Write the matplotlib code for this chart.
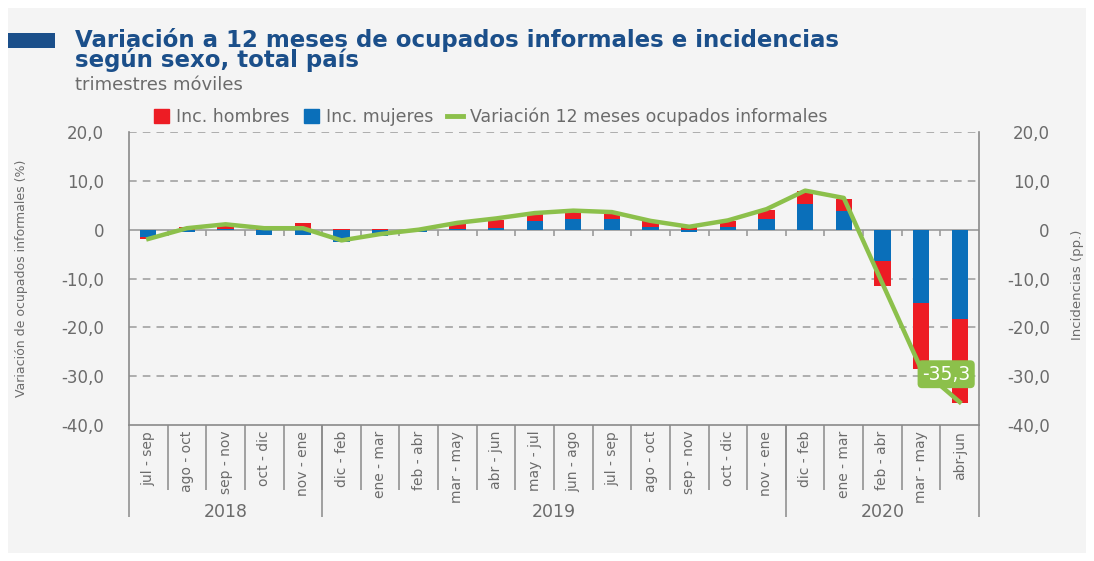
import matplotlib
matplotlib.use('Agg')
import matplotlib.pyplot as plt
from matplotlib.patches import Rectangle, Patch
from matplotlib.lines import Line2D
from matplotlib.transforms import blended_transform_factory
import numpy as np

periodos = ['jul - sep', 'ago - oct', 'sep - nov', 'oct - dic', 'nov - ene',
            'dic - feb', 'ene - mar', 'feb - abr', 'mar - may', 'abr - jun',
            'may - jul', 'jun - ago', 'jul - sep', 'ago - oct', 'sep - nov',
            'oct - dic', 'nov - ene', 'dic - feb', 'ene - mar', 'feb - abr',
            'mar - may', 'abr-jun']
anios = ['2018', '2019', '2020']
n_por_anio = [5, 12, 5]

inc_mujeres = [-1.4, -0.5, 0.2, -1.0, -1.0, -2.5, -1.3, -0.4, 0.2, 0.4, 1.8,
               2.2, 2.2, 0.5, -0.5, 0.5, 2.2, 5.2, 3.9, -6.5, -15.1, -18.2]
inc_hombres = [-0.5, 0.5, 0.6, 0.2, 1.4, 0.1, 0.2, 0.1, 0.9, 1.6, 1.5,
               1.6, 1.1, 1.2, 0.5, 1.2, 1.8, 2.7, 2.4, -5.0, -13.4, -17.3]
variacion = [-1.9, 0.3, 1.1, 0.3, 0.3, -2.2, -0.9, 0.0, 1.4, 2.3, 3.4,
             3.9, 3.6, 1.8, 0.6, 1.9, 4.2, 8.0, 6.5, -11.0, -28.5, -35.3]

ROJO = '#ed1c24'
AZUL = '#0a6fba'
VERDE = '#8cc04b'
GRIS = '#6b6b6b'
TITULO = '#1b4f8a'

plt.rcParams['font.family'] = ['DejaVu Sans']

fig = plt.figure(figsize=(10.94, 5.61), dpi=100)
fig.patch.set_facecolor('white')
fig.add_artist(Rectangle((8 / 1094, 8 / 561), 1078 / 1094, 545 / 561,
                         transform=fig.transFigure, facecolor='#f4f4f4',
                         edgecolor='none', zorder=-10))

# titulo
fig.add_artist(Rectangle((8 / 1094, 1 - 48 / 561), 47 / 1094, 15 / 561,
                         transform=fig.transFigure, facecolor=TITULO,
                         edgecolor='none'))
fig.text(75 / 1094, 1 - 67 / 561,
         'Variación a 12 meses de ocupados informales e incidencias\n'
         'según sexo, total país',
         fontsize=16.5, fontweight='bold', color=TITULO, va='baseline',
         linespacing=0.8)
fig.text(75 / 1094, 1 - 90 / 561, 'trimestres móviles',
         fontsize=13, color=GRIS, va='baseline')

ax = fig.add_axes([129 / 1094, 1 - 425 / 561, 850 / 1094, 293 / 561])
ax.set_facecolor('none')

x = np.arange(len(periodos))
m = np.array(inc_mujeres)
h = np.array(inc_hombres)
base_h = np.where(np.sign(h) == np.sign(m), m, 0)

ax.bar(x, m, width=0.42, color=AZUL, zorder=3)
ax.bar(x, h, width=0.42, bottom=base_h, color=ROJO, zorder=3)
ax.plot(x, variacion, color=VERDE, lw=3.2, zorder=4, solid_joinstyle='round')

ax.set_xlim(-0.5, len(periodos) - 0.5)
ax.set_ylim(-40, 20)
yt = [20, 10, 0, -10, -20, -30, -40]
ylab = ['20,0', '10,0', '0', '-10,0', '-20,0', '-30,0', '-40,0']
ax.set_yticks(yt)
ax.set_yticklabels(ylab)
for v in [20, 10, -10, -20, -30]:
    ax.axhline(v, color='#9a9a9a', lw=1.1, ls=(0, (5, 4)), zorder=1)
ax.axhline(0, color='#9a9a9a', lw=1.2, zorder=2)
ax.vlines(x[:-1] + 0.5, -1.3, 0, color='#9a9a9a', lw=1.2, zorder=2)

ax.tick_params(axis='y', length=0, labelsize=12, labelcolor=GRIS, pad=18)
ax.set_xticks([])
ax.spines['top'].set_visible(False)
for s in ['left', 'right', 'bottom']:
    ax.spines[s].set_color('#8a8a8a')
    ax.spines[s].set_linewidth(1.2)

ax2 = ax.twinx()
ax2.set_ylim(-40, 20)
ax2.set_yticks(yt)
ax2.set_yticklabels(ylab)
ax2.tick_params(axis='y', length=0, labelsize=12, labelcolor=GRIS, pad=51)
for t in ax2.get_yticklabels():
    t.set_horizontalalignment('right')
for s in ax2.spines.values():
    s.set_visible(False)

ax.set_ylabel('Variación de ocupados informales (%)', fontsize=9,
              color=GRIS)
ax.yaxis.set_label_coords(-0.119, 0.5)
ax2.set_ylabel('Incidencias (pp.)', fontsize=9.5, color=GRIS)
ax2.yaxis.set_label_coords(1.108, 0.478)

# etiquetas del eje x
tr = blended_transform_factory(ax.transData, ax.transAxes)
for i, lab in enumerate(periodos):
    ax.text(i, -0.02, lab, transform=tr, rotation=90, ha='center', va='top',
            fontsize=10, color=GRIS)
ax.vlines(x[:-1] + 0.5, -0.222, 0, transform=tr, color='#8a8a8a', lw=1.1,
          clip_on=False)
limites = np.concatenate([[0], np.cumsum(n_por_anio)]) - 0.5
ax.vlines(limites, -0.314, 0, transform=tr, color='#8a8a8a', lw=1.1,
          clip_on=False)
for k, a in enumerate(anios):
    ax.text((limites[k] + limites[k + 1]) / 2, -0.297, a, transform=tr,
            ha='center', va='center', fontsize=12.5, color=GRIS)

# etiqueta del ultimo dato
ax.annotate('-35,3', xy=(x[-1], variacion[-1]), xytext=(x[-1] - 0.35, -29.6),
            ha='center', va='center', fontsize=13.5, color='white',
            bbox=dict(boxstyle='round,pad=0.2', fc=VERDE, ec=VERDE), zorder=6)

handles = [Patch(color=ROJO), Patch(color=AZUL),
           Line2D([0], [0], color=VERDE, lw=3.5)]
fig.legend(handles, ['Inc. hombres', 'Inc. mujeres',
                     'Variación 12 meses ocupados informales'],
           loc='center left', bbox_to_anchor=(138 / 1094, 1 - 117 / 561),
           ncol=3, frameon=False, fontsize=12.5, labelcolor=GRIS,
           handlelength=0.9, handleheight=0.9, handletextpad=0.4,
           columnspacing=0.8)

fig.savefig('out.png', dpi=100)
